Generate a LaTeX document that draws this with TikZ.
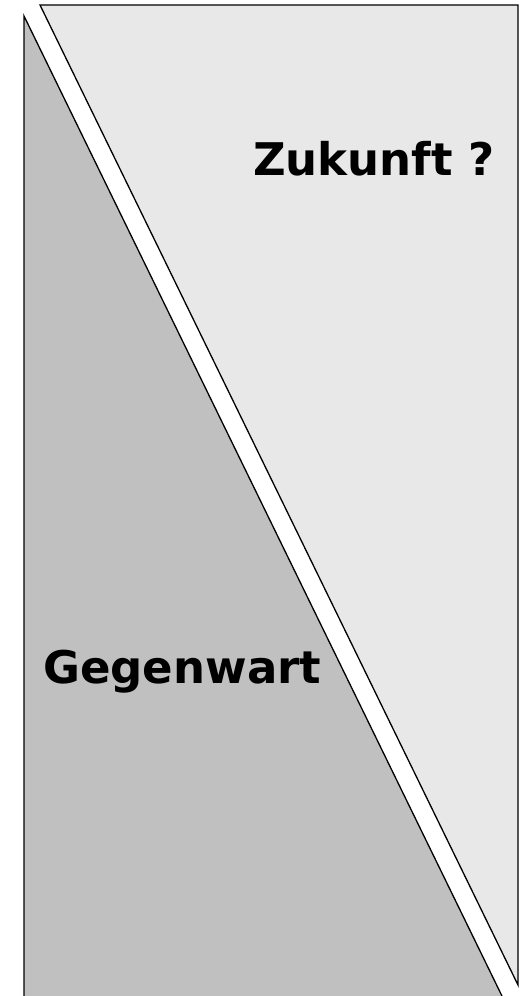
\documentclass[tikz,border=0pt]{standalone}
\usepackage{fontspec}
\setmainfont{DejaVu Sans}
\definecolor{darkfill}{HTML}{C0C0C0}
\definecolor{lightfill}{HTML}{E8E8E8}
\begin{document}
\begin{tikzpicture}[x=1pt,y=-1pt,
  tri/.style={draw=black,line width=1.3pt,line join=miter},
  lbl/.style={anchor=base west,inner sep=0pt,font=\fontsize{45}{54}\selectfont\bfseries}]
\useasboundingbox (0,0) rectangle (523,996);
\fill[white] (0,0) rectangle (523,996);
% present (left, dark)
\coordinate (p1) at (24,16);
\coordinate (p2) at (24,1010);
\coordinate (p3) at (508.8,1010);
\filldraw[tri,fill=darkfill] (p1) -- (p3) -- (p2) -- cycle;
% future (right, light)
\coordinate (f1) at (40,5);
\coordinate (f2) at (518,5);
\coordinate (f3) at (518,985);
\filldraw[tri,fill=lightfill] (f1) -- (f2) -- (f3) -- cycle;
\node[lbl] (zuk) at (253,175) {Zukunft ?};
\node[lbl] (geg) at (43,683) {Gegenwart};
\end{tikzpicture}
\end{document}
